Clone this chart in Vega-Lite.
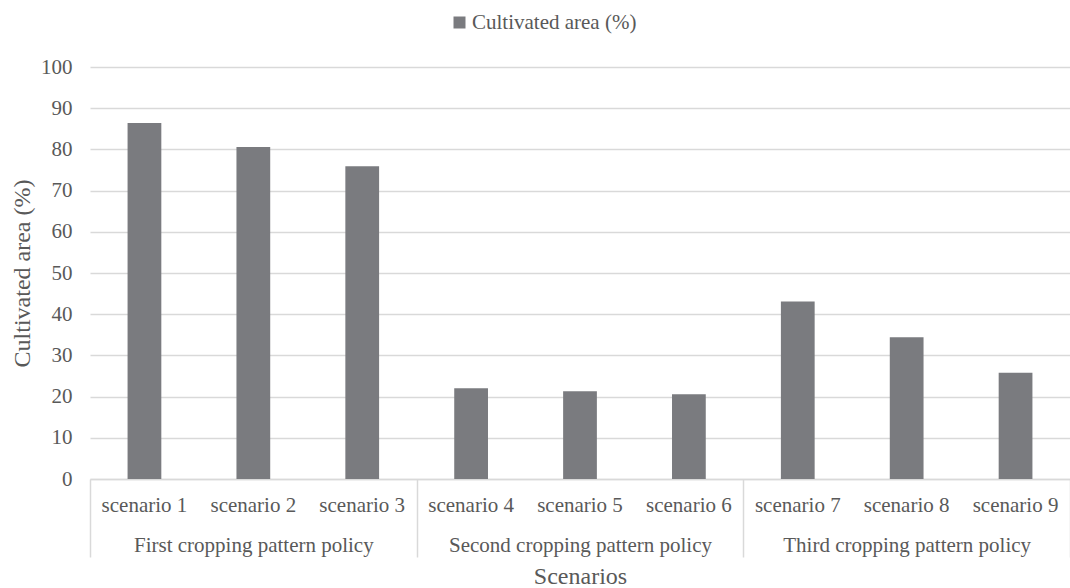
{
  "$schema": "https://vega.github.io/schema/vega-lite/v6.json",
  "width": 980,
  "height": 412,
  "autosize": {"type": "none"},
  "padding": {"left": 90, "top": 67, "right": 0, "bottom": 109},
  "background": "white",
  "config": {
    "view": {"stroke": null},
    "font": "'Liberation Serif', 'DejaVu Serif', serif"
  },
  "data": {
    "values": [
      {"scenario": "scenario 1", "policy": "First cropping pattern policy", "area": 86.4},
      {"scenario": "scenario 2", "policy": "First cropping pattern policy", "area": 80.6},
      {"scenario": "scenario 3", "policy": "First cropping pattern policy", "area": 75.9},
      {"scenario": "scenario 4", "policy": "Second cropping pattern policy", "area": 22.0},
      {"scenario": "scenario 5", "policy": "Second cropping pattern policy", "area": 21.3},
      {"scenario": "scenario 6", "policy": "Second cropping pattern policy", "area": 20.6},
      {"scenario": "scenario 7", "policy": "Third cropping pattern policy", "area": 43.1},
      {"scenario": "scenario 8", "policy": "Third cropping pattern policy", "area": 34.4},
      {"scenario": "scenario 9", "policy": "Third cropping pattern policy", "area": 25.8}
    ]
  },
  "layer": [
    {
      "mark": {"type": "bar"},
      "encoding": {
        "x": {
          "field": "scenario",
          "type": "nominal",
          "sort": null,
          "scale": {"paddingInner": 0.69, "paddingOuter": 0.345},
          "axis": {
            "title": null,
            "orient": "bottom",
            "labelAngle": 0,
            "ticks": false,
            "grid": false,
            "domainColor": "#d9d9d9",
            "domainWidth": 1.5,
            "labelFont": "'Liberation Serif', 'DejaVu Serif', serif",
            "labelFontSize": 21,
            "labelColor": "#595959",
            "labelPadding": 15,
            "labelLimit": 400
          }
        },
        "y": {
          "field": "area",
          "type": "quantitative",
          "scale": {"domain": [0, 100]},
          "axis": {
            "title": "Cultivated area (%)",
            "values": [0, 10, 20, 30, 40, 50, 60, 70, 80, 90, 100],
            "domain": false,
            "ticks": false,
            "gridColor": "#d9d9d9",
            "gridWidth": 1.5,
            "labelFont": "'Liberation Serif', 'DejaVu Serif', serif",
            "labelFontSize": 21,
            "labelColor": "#595959",
            "labelPadding": 18,
            "titleFont": "'Liberation Serif', 'DejaVu Serif', serif",
            "titleFontSize": 24,
            "titleFontWeight": "normal",
            "titleColor": "#595959",
            "titlePadding": 6
          }
        },
        "color": {
          "datum": "Cultivated area (%)",
          "scale": {"range": ["#7a7b7f"]},
          "legend": {
            "title": null,
            "orient": "none",
            "legendX": 359,
            "legendY": -55,
            "symbolType": "square",
            "symbolSize": 144,
            "symbolStrokeWidth": 0,
            "labelOffset": 2,
            "labelFont": "'Liberation Serif', 'DejaVu Serif', serif",
            "labelFontSize": 21,
            "labelColor": "#595959",
            "labelLimit": 400
          }
        }
      }
    },
    {
      "mark": {"type": "bar", "opacity": 0},
      "encoding": {
        "x": {
          "field": "policy",
          "type": "nominal",
          "sort": null,
          "scale": {"paddingInner": 0, "paddingOuter": 0},
          "axis": {
            "orient": "bottom",
            "title": "Scenarios",
            "labelAngle": 0,
            "domain": false,
            "grid": false,
            "ticks": true,
            "tickBand": "extent",
            "tickSize": 78,
            "tickColor": "#d9d9d9",
            "tickWidth": 1.5,
            "labelFont": "'Liberation Serif', 'DejaVu Serif', serif",
            "labelFontSize": 21,
            "labelColor": "#595959",
            "labelPadding": -23,
            "labelLimit": 400,
            "titleFont": "'Liberation Serif', 'DejaVu Serif', serif",
            "titleFontSize": 24,
            "titleFontWeight": "normal",
            "titleColor": "#595959",
            "titlePadding": 7
          }
        }
      }
    }
  ],
  "resolve": {"scale": {"x": "independent"}, "axis": {"x": "independent"}}
}
